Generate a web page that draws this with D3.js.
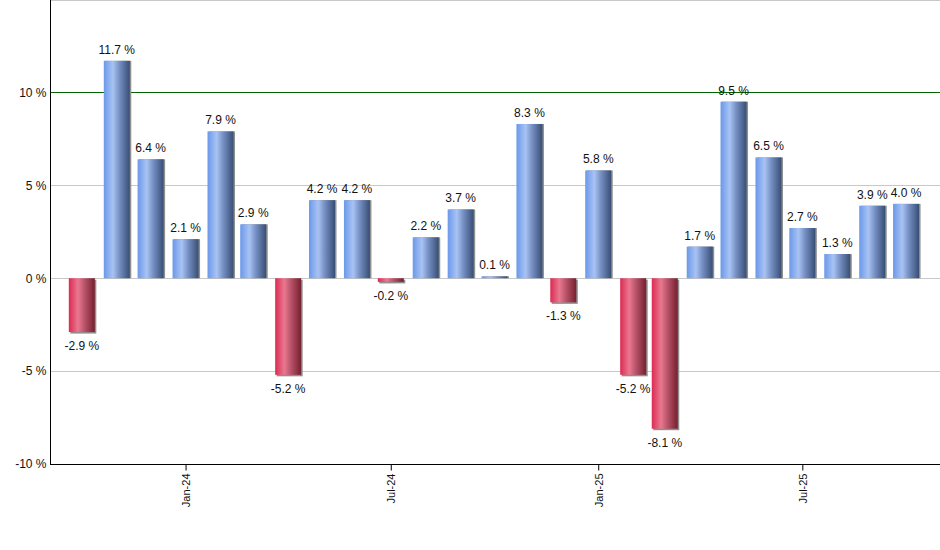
<!DOCTYPE html>
<html>
<head>
<meta charset="utf-8">
<script src="https://cdn.jsdelivr.net/npm/d3@7"></script>
<style>
  body { margin: 0; background: #fff; }
  svg { display: block; font-family: "Liberation Sans", Arial, sans-serif; }
</style>
</head>
<body>
<div id="chart"></div>
<script>
// monthly returns, Oct 2023 .. Oct 2025
const months = [
  "2023-10", "2023-11", "2023-12", "2024-01", "2024-02", "2024-03", "2024-04",
  "2024-05", "2024-06", "2024-07", "2024-08", "2024-09", "2024-10", "2024-11",
  "2024-12", "2025-01", "2025-02", "2025-03", "2025-04", "2025-05", "2025-06",
  "2025-07", "2025-08", "2025-09", "2025-10"
];
const returns = [
  -2.9, 11.7, 6.4, 2.1, 7.9, 2.9, -5.2,
  4.2, 4.2, -0.2, 2.2, 3.7, 0.1, 8.3,
  -1.3, 5.8, -5.2, -8.1, 1.7, 9.5, 6.5,
  2.7, 1.3, 3.9, 4.0
];
const yTicks = [-10, -5, 0, 5, 10];
const gridValues = [-5, 0, 5, 15];
const refLine = 10;

const width = 940, height = 550;
const parseMonth = d3.timeParse("%Y-%m");
const data = months.map((m, i) => ({date: parseMonth(m), value: returns[i]}));

const svg = d3.select("#chart").append("svg")
    .attr("width", width)
    .attr("height", height);

const x = d3.scaleTime()
    .domain([new Date(2023, 8, 1), new Date(2025, 10, 1)])
    .range([48, 941]);

const y = d3.scaleLinear()
    .domain([-10, 15])
    .range([464, -0.5]);

const barW = 26;

const defs = svg.append("defs");
function grad(id, stops) {
    const g = defs.append("linearGradient").attr("id", id)
        .attr("x1", "0%").attr("x2", "100%").attr("y1", "0%").attr("y2", "0%");
    stops.forEach(s => g.append("stop").attr("offset", s[0]).attr("stop-color", s[1]));
}
grad("blueGrad", [["0%", "#6b98ea"], ["35%", "#a8c3f3"], ["60%", "#7690c4"], ["100%", "#374e74"]]);
grad("redGrad", [["0%", "#dc2a52"], ["35%", "#e9788f"], ["60%", "#b9546a"], ["100%", "#76202f"]]);

// gridlines
svg.append("g").selectAll("line")
    .data(gridValues)
    .join("line")
    .attr("x1", 50).attr("x2", width)
    .attr("y1", d => Math.round(y(d)) + 0.5)
    .attr("y2", d => Math.round(y(d)) + 0.5)
    .attr("stroke", "#c8c8c8")
    .attr("stroke-width", 1);

// reference line at 10 % (behind the bars)
svg.append("line")
    .attr("x1", 50).attr("x2", width)
    .attr("y1", Math.round(y(refLine)) + 0.5).attr("y2", Math.round(y(refLine)) + 0.5)
    .attr("stroke", "#006400")
    .attr("stroke-width", 1);

// bars: shadow then body
const bars = svg.append("g");
bars.selectAll("rect.shadow")
    .data(data)
    .join("rect")
    .attr("class", "shadow")
    .attr("x", d => x(d.date) - barW / 2 + 1.5)
    .attr("y", d => Math.min(y(d.value), y(0)) + (d.value < 0 ? 1.5 : 0))
    .attr("width", barW)
    .attr("height", d => Math.abs(y(d.value) - y(0)))
    .attr("fill", "#8f8f8f");

bars.selectAll("rect.bar")
    .data(data)
    .join("rect")
    .attr("class", "bar")
    .attr("x", d => x(d.date) - barW / 2)
    .attr("y", d => Math.min(y(d.value), y(0)))
    .attr("width", barW)
    .attr("height", d => Math.abs(y(d.value) - y(0)))
    .attr("fill", d => d.value < 0 ? "url(#redGrad)" : "url(#blueGrad)");

// value labels
svg.append("g").selectAll("text")
    .data(data)
    .join("text")
    .attr("x", d => x(d.date))
    .attr("y", d => d.value < 0 ? y(d.value) + 18 : y(d.value) - 7)
    .attr("text-anchor", "middle")
    .attr("font-size", 12)
    .attr("fill", "#111")
    .text(d => d.value.toFixed(1) + " %");

// y axis
const yAxis = svg.append("g")
    .attr("transform", "translate(50.5,0)")
    .call(d3.axisLeft(y).tickValues(yTicks).tickSize(0).tickPadding(4)
        .tickFormat(d => d + " %"));
yAxis.select(".domain").remove();
yAxis.selectAll("text").attr("font-size", 12).attr("fill", "#111").attr("font-family", null);
svg.append("line")
    .attr("x1", 50.5).attr("x2", 50.5)
    .attr("y1", 0).attr("y2", 464)
    .attr("stroke", "#000");

// x axis
const xAxis = svg.append("g")
    .attr("transform", "translate(0,464.5)")
    .call(d3.axisBottom(x).ticks(d3.timeMonth.every(6)).tickSize(6).tickSizeOuter(0)
        .tickFormat(d3.timeFormat("%b-%y")));
xAxis.select(".domain").attr("d", `M50,0H${width}`).attr("stroke", "#000");
xAxis.selectAll(".tick line").attr("stroke", "#000");
xAxis.selectAll("text")
    .attr("font-size", 11)
    .attr("fill", "#111")
    .attr("font-family", null)
    .attr("text-anchor", "end")
    .attr("transform", "rotate(-90)")
    .attr("x", -9)
    .attr("y", 0)
    .attr("dy", "0.35em");
</script>
</body>
</html>
